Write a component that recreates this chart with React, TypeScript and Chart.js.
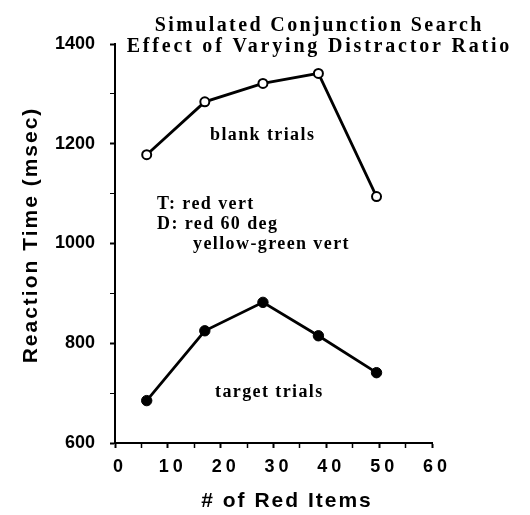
import React, { useEffect, useRef } from 'react';
import { Chart, registerables } from 'chart.js';

Chart.register(...registerables);

// ---- data ----
const xRedItems = [6, 17, 28, 38.5, 49.5];
const blankTrialsRT = [1178, 1284, 1321, 1341, 1094];
const targetTrialsRT = [685, 825, 882, 815, 741];

const xTickValues = [0, 10, 20, 30, 40, 50, 60];
const xTickLabels = ['0', '10', '20', '30', '40', '50', '60'];
const yTickValues = [600, 800, 1000, 1200, 1400];
const yTickLabels = ['600', '800', '1000', '1200', '1400'];

const titleLines = ['Simulated Conjunction Search', 'Effect of Varying Distractor Ratio'];
const xAxisTitle = '# of Red Items';
const yAxisTitle = 'Reaction Time (msec)';
const seriesLabels = ['blank trials', 'target trials'];
const conditionLines = ['T: red vert', 'D: red 60 deg', 'yellow-green vert'];

const SANS = "'Liberation Sans', Arial, Helvetica, sans-serif";
const SERIF = "'Liberation Serif', 'Times New Roman', Times, serif";

function drawText(
  ctx: CanvasRenderingContext2D,
  text: string,
  x: number,
  y: number,
  font: string,
  spacing: number,
  align: CanvasTextAlign
) {
  ctx.font = font;
  (ctx as any).letterSpacing = spacing + 'px';
  ctx.textAlign = align;
  ctx.textBaseline = 'alphabetic';
  const dx = align === 'center' ? spacing / 2 : 0;
  ctx.fillText(text, x + dx, y);
}

const textPlugin = {
  id: 'referenceTexts',
  beforeDraw(chart: any) {
    const xs = chart.scales.x;
    if (xs && !xs.__spaced) {
      const orig = xs.drawLabels.bind(xs);
      xs.drawLabels = (area: any) => {
        const c = chart.ctx as any;
        const prev = c.letterSpacing;
        c.letterSpacing = '4px';
        orig(area);
        c.letterSpacing = prev || '0px';
      };
      xs.__spaced = true;
    }
  },
  afterDraw(chart: any) {
    const ctx: CanvasRenderingContext2D = chart.ctx;
    ctx.save();
    ctx.fillStyle = '#000';

    // title
    drawText(ctx, titleLines[0], 318, 31, `bold 20px ${SERIF}`, 2.4, 'center');
    drawText(ctx, titleLines[1], 318, 52, `bold 20px ${SERIF}`, 2.8, 'center');

    // annotations
    const annFont = `bold 18px ${SERIF}`;
    drawText(ctx, seriesLabels[0], 210, 140, annFont, 1.4, 'left');
    drawText(ctx, conditionLines[0], 157, 209, annFont, 1.4, 'left');
    drawText(ctx, conditionLines[1], 157, 229, annFont, 1.4, 'left');
    drawText(ctx, conditionLines[2], 193, 249, annFont, 1.4, 'left');
    drawText(ctx, seriesLabels[1], 215, 397, annFont, 1.4, 'left');

    // x axis title
    drawText(ctx, xAxisTitle, 286, 507, `bold 21px ${SANS}`, 2, 'center');

    // y axis title (rotated)
    ctx.save();
    ctx.translate(37, 236);
    ctx.rotate(-Math.PI / 2);
    drawText(ctx, yAxisTitle, 0, 0, `bold 21px ${SANS}`, 2, 'center');
    ctx.restore();

    ctx.restore();
  },
};

export default function App() {
  const canvasRef = useRef<HTMLCanvasElement | null>(null);

  useEffect(() => {
    if (!canvasRef.current) return;
    const chart = new Chart(canvasRef.current, {
      type: 'line',
      data: {
        datasets: [
          {
            label: seriesLabels[0],
            data: xRedItems.map((x, i) => ({ x, y: blankTrialsRT[i] })),
            borderColor: '#000',
            borderWidth: 2.8,
            pointRadius: 4.5,
            pointBorderWidth: 2,
            pointBackgroundColor: '#fff',
            pointBorderColor: '#000',
            tension: 0,
          },
          {
            label: seriesLabels[1],
            data: xRedItems.map((x, i) => ({ x, y: targetTrialsRT[i] })),
            borderColor: '#000',
            borderWidth: 2.8,
            pointRadius: 5.2,
            pointBorderWidth: 1,
            pointBackgroundColor: '#000',
            pointBorderColor: '#000',
            tension: 0,
          },
        ],
      },
      options: {
        animation: false,
        responsive: true,
        maintainAspectRatio: false,
        layout: { padding: { top: 44, right: 98, left: 0, bottom: 0 } },
        plugins: {
          legend: { display: false },
          tooltip: { enabled: false },
          title: { display: false },
        },
        scales: {
          x: {
            type: 'linear',
            min: 0,
            max: 60,
            afterFit: (s: any) => {
              s.height = 72;
            },
            border: { display: true, color: '#000', width: 2 },
            grid: {
              display: true,
              drawOnChartArea: false,
              drawTicks: true,
              tickLength: 5,
              tickColor: '#000',
              tickWidth: (c: any) => (c.tick && c.tick.value % 10 === 0 ? 2 : 1.5),
            },
            ticks: {
              stepSize: 5,
              autoSkip: false,
              maxRotation: 0,
              padding: 8,
              labelOffset: 5,
              color: '#000',
              font: { family: SANS, size: 18, weight: 'bold' },
              callback: (v: any) => {
                const i = xTickValues.indexOf(Number(v));
                return i >= 0 ? xTickLabels[i] : '';
              },
            },
          },
          y: {
            type: 'linear',
            min: 600,
            max: 1400,
            afterFit: (s: any) => {
              s.width = 115;
            },
            border: { display: true, color: '#000', width: 2 },
            grid: {
              display: true,
              drawOnChartArea: false,
              drawTicks: true,
              tickLength: 5,
              tickColor: '#000',
              tickWidth: (c: any) => (c.tick && c.tick.value % 200 === 0 ? 2 : 1),
            },
            ticks: {
              stepSize: 100,
              autoSkip: false,
              padding: 15,
              color: '#000',
              font: { family: SANS, size: 18, weight: 'bold' },
              callback: (v: any) => {
                const i = yTickValues.indexOf(Number(v));
                return i >= 0 ? yTickLabels[i] : '';
              },
            },
          },
        },
      },
      plugins: [textPlugin],
    } as any);
    return () => chart.destroy();
  }, []);

  return (
    <div style={{ position: 'absolute', left: 0, top: 0, width: 530, height: 515, background: '#fff' }}>
      <canvas ref={canvasRef} />
    </div>
  );
}
